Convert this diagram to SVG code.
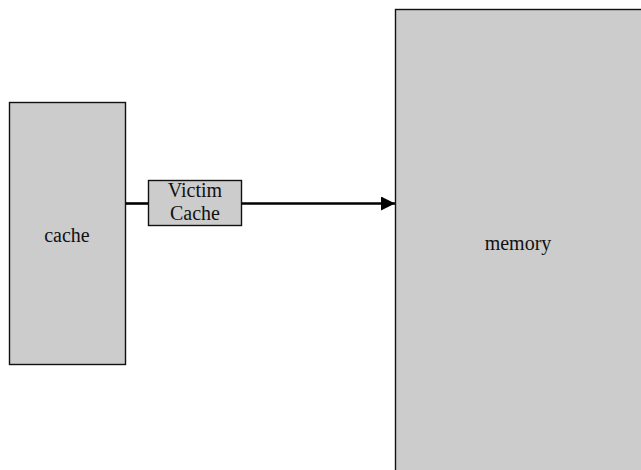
<svg xmlns="http://www.w3.org/2000/svg" width="641" height="470" viewBox="0 0 641 470">
  <style>
    .box { fill: #cccccc; stroke: #111111; stroke-width: 1.4; }
    .label { font-family: "Liberation Serif", "Times New Roman", serif; font-size: 20px; fill: #111111; text-anchor: middle; }
    .wire { stroke: #000000; stroke-width: 2.6; fill: none; }
  </style>
  <defs>
    <marker id="arrowhead" markerUnits="userSpaceOnUse" markerWidth="14" markerHeight="14" refX="14" refY="7" orient="auto">
      <path d="M0,0 L14,7 L0,14 Z" fill="#000000"/>
    </marker>
  </defs>

  <g id="connectors">
    <line class="wire" x1="125" y1="203.5" x2="148.5" y2="203.5"/>
    <line class="wire" x1="241.5" y1="203.5" x2="395" y2="203.5" marker-end="url(#arrowhead)"/>
  </g>

  <g id="cache">
    <rect class="box" x="9.5" y="102.5" width="116" height="262"/>
    <text class="label" x="67" y="242">cache</text>
  </g>

  <g id="victim-cache">
    <rect class="box" x="148.5" y="180.5" width="93" height="45"/>
    <text class="label" x="195" y="197">Victim</text>
    <text class="label" x="195" y="220">Cache</text>
  </g>

  <g id="memory">
    <rect class="box" x="395.5" y="9.5" width="260" height="480"/>
    <text class="label" x="518" y="250">memory</text>
  </g>
</svg>
